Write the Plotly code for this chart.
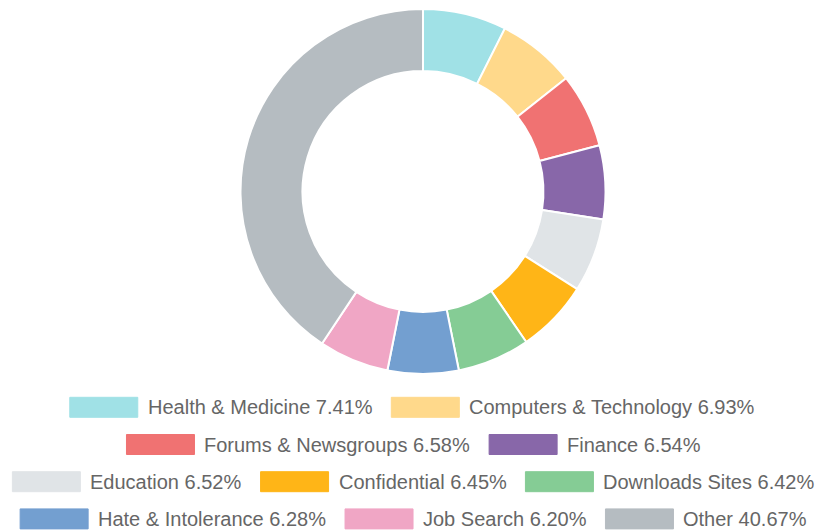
import plotly.graph_objects as go

# Category share data
categories = [
    "Health & Medicine", "Computers & Technology", "Forums & Newsgroups",
    "Finance", "Education", "Confidential", "Downloads Sites",
    "Hate & Intolerance", "Job Search", "Other",
]
shares = [7.41, 6.93, 6.58, 6.54, 6.52, 6.45, 6.42, 6.28, 6.20, 40.67]
colors = [
    "#a0e1e6", "#ffd98b", "#f07272", "#8867a9", "#e0e4e7",
    "#ffb517", "#85cc95", "#739fd0", "#f0a6c5", "#b5bcc1",
]

W, H = 819, 531
FONT = "Liberation Sans, Arial, sans-serif"
FONT_SIZE = 20
TEXT_COLOR = "#666666"

# Donut geometry (pixels)
CX, CY, R = 423, 191.5, 182.5

fig = go.Figure(go.Pie(
    labels=categories,
    values=shares,
    marker=dict(colors=colors, line=dict(color="white", width=2)),
    hole=0.66,
    sort=False,
    direction="clockwise",
    rotation=0,
    textinfo="none",
    hoverinfo="label+percent",
    showlegend=False,
    domain=dict(x=[(CX - R) / W, (CX + R) / W], y=[1 - (CY + R) / H, 1 - (CY - R) / H]),
))

# Approximate Arial advance widths (1/1000 em) for legend layout
ARIAL = {
    " ": 278, "&": 667, "%": 889, ".": 278,
    "A": 667, "C": 722, "D": 722, "E": 667, "F": 611, "H": 722, "I": 278,
    "J": 500, "M": 833, "N": 722, "O": 778, "S": 667, "T": 611,
    "a": 556, "b": 556, "c": 500, "d": 556, "e": 556, "f": 278, "g": 556,
    "h": 556, "i": 222, "j": 222, "k": 500, "l": 222, "m": 833, "n": 556,
    "o": 556, "p": 556, "q": 556, "r": 333, "s": 500, "t": 278, "u": 556,
    "v": 500, "w": 722, "x": 500, "y": 500, "z": 500,
}


def text_width(s):
    return sum(556 if ch.isdigit() else ARIAL.get(ch, 556) for ch in s) * FONT_SIZE / 1000


SW_W, SW_H = 68, 20
SW_GAP = 11
ITEM_GAP = 18
MAX_ROW = 815
LEGEND_CX = 414
ROW_Y0, ROW_STEP = 407.3, 37.2

labels = [f"{c} {v:.2f}%" for c, v in zip(categories, shares)]
items = [(lab, col, SW_W + SW_GAP + text_width(lab)) for lab, col in zip(labels, colors)]

rows, cur, cur_w = [], [], 0
for it in items:
    add = it[2] + (ITEM_GAP if cur else 0)
    if cur and cur_w + add > MAX_ROW:
        rows.append((cur, cur_w))
        cur, cur_w = [it], it[2]
    else:
        cur.append(it)
        cur_w += add
if cur:
    rows.append((cur, cur_w))

shapes, annotations = [], []
for r, (row, row_w) in enumerate(rows):
    y = ROW_Y0 + r * ROW_STEP
    x = LEGEND_CX - row_w / 2
    for lab, col, w in row:
        shapes.append(dict(
            type="rect", xref="paper", yref="paper",
            x0=x / W, x1=(x + SW_W) / W,
            y0=1 - (y + SW_H / 2) / H, y1=1 - (y - SW_H / 2) / H,
            fillcolor=col, line=dict(width=1, color=col), layer="above",
        ))
        annotations.append(dict(
            xref="paper", yref="paper", x=(x + SW_W + SW_GAP - 3) / W, y=1 - y / H,
            xanchor="left", yanchor="middle", text=lab, showarrow=False,
            font=dict(family=FONT, size=FONT_SIZE, color=TEXT_COLOR),
        ))
        x += w + ITEM_GAP

fig.update_layout(
    width=W, height=H,
    margin=dict(l=0, r=0, t=0, b=0),
    paper_bgcolor="white", plot_bgcolor="white",
    shapes=shapes, annotations=annotations,
)

fig.write_html("out.html")
